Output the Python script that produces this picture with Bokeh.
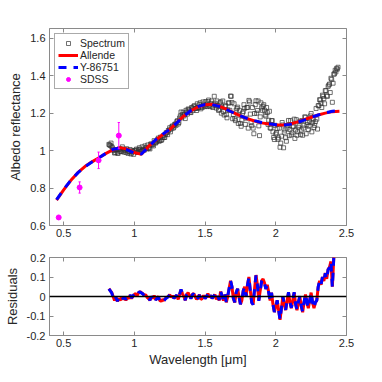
import numpy as np
from bokeh.plotting import figure
from bokeh.models import (Range1d, LinearAxis, FixedTicker, Span, Legend,
                          LegendItem, CustomJSTickFormatter)
from bokeh.layouts import column
from bokeh.embed import file_html
from bokeh.resources import INLINE

# ---------------- data ----------------
model_wl = [0.45, 0.50, 0.55, 0.60, 0.65, 0.70, 0.75, 0.80, 0.85, 0.90,
            0.95, 1.00, 1.05, 1.10, 1.15, 1.20, 1.25, 1.30, 1.35, 1.40,
            1.45, 1.50, 1.55, 1.60, 1.65, 1.70, 1.75, 1.80, 1.85, 1.90,
            1.95, 2.00, 2.05, 2.10, 2.15, 2.20, 2.25, 2.30, 2.35, 2.40, 2.45]
allende = [0.735, 0.790, 0.840, 0.882, 0.915, 0.940, 0.962, 0.985, 1.005, 1.016,
           1.008, 0.990, 0.980, 1.022, 1.055, 1.085, 1.112, 1.150, 1.185, 1.213,
           1.233, 1.245, 1.247, 1.238, 1.222, 1.203, 1.185, 1.170, 1.158, 1.148,
           1.142, 1.138, 1.137, 1.142, 1.152, 1.165, 1.178, 1.190, 1.200, 1.208, 1.210]
y86751 = [0.738, 0.792, 0.841, 0.881, 0.913, 0.939, 0.962, 0.986, 1.007, 1.014,
          1.004, 0.987, 0.982, 1.020, 1.057, 1.087, 1.113, 1.148, 1.184, 1.214,
          1.235, 1.246, 1.246, 1.236, 1.220, 1.202, 1.185, 1.171, 1.160, 1.150,
          1.143, 1.138, 1.136, 1.140, 1.150, 1.163, 1.177, 1.190, 1.201, 1.210, 1.213]

# main spectrum channel (used for the residuals), one value every 0.01 um from 0.82
SPEC_A_START = 0.82
SPEC_STEP = 0.01
spec_refl_a = [
    1.033, 1.027, 1.021, 1.005, 0.987, 1.004, 0.987, 1.004, 0.996, 1.009,   # 0.82-0.91
    0.998, 1.006, 0.990, 1.003, 0.994, 1.006, 0.987, 0.994, 1.000, 1.003,   # 0.92-1.01
    0.991, 1.004, 1.007, 1.000, 1.003, 1.002, 1.015, 1.009, 1.012, 1.009,   # 1.02-1.11
    1.035, 1.032, 1.053, 1.040, 1.051, 1.067, 1.053, 1.054, 1.070, 1.070,   # 1.12-1.21
    1.086, 1.096, 1.107, 1.122, 1.115, 1.132, 1.125, 1.142, 1.155, 1.142,   # 1.22-1.31
    1.174, 1.206, 1.193, 1.185, 1.171, 1.206, 1.222, 1.212, 1.203, 1.227,   # 1.32-1.41
    1.236, 1.225, 1.214, 1.228, 1.245, 1.223, 1.230, 1.248, 1.235, 1.245,   # 1.42-1.51
    1.261, 1.242, 1.252, 1.237, 1.245, 1.253, 1.227, 1.240,                 # 1.52-1.59
    1.218, 1.260, 1.232, 1.208, 1.235, 1.192, 1.218, 1.254, 1.291, 1.257,   # 1.60-1.69
    1.193, 1.169, 1.216, 1.232, 1.189, 1.145, 1.162, 1.209, 1.226, 1.173,   # 1.70-1.79
    1.230, 1.268, 1.195, 1.133, 1.120, 1.198, 1.266, 1.214, 1.132, 1.180,   # 1.80-1.89
    1.228, 1.237, 1.216, 1.184, 1.203, 1.162, 1.121, 1.160, 1.100, 1.059,   # 1.90-1.99
    1.088, 1.118, 1.068, 1.018, 1.077, 1.137, 1.098, 1.069, 1.120, 1.161,   # 2.00-2.09
    1.112, 1.084, 1.126, 1.168, 1.110, 1.082, 1.125, 1.157, 1.110, 1.082,   # 2.10-2.19
    1.135, 1.178, 1.140, 1.113, 1.155, 1.198, 1.150, 1.123, 1.155, 1.168,   # 2.20-2.29
    1.240, 1.272, 1.254, 1.296, 1.278, 1.320, 1.292, 1.343, 1.355, 1.386,   # 2.30-2.39
    1.258, 1.408, 1.429, 1.439, 1.445]                                       # 2.40-2.44

# interleaved spectrum points, one every 0.01 um from 0.825
SPEC_B_START = 0.825
spec_refl_b = [
    1.030, 1.040, 1.015, 1.000, 0.990, 1.005, 0.985, 1.010, 0.995, 1.020,   # 0.825-0.915
    0.992, 1.000, 1.010, 0.985, 0.995, 0.982, 1.000, 0.980, 0.998, 1.008,   # 0.925-1.015
    0.990, 1.015, 0.995, 1.020, 1.005, 1.025, 1.015, 1.030, 1.015, 1.035,   # 1.025-1.115
    1.030, 1.025, 1.045, 1.045, 1.060, 1.050, 1.072, 1.060, 1.080, 1.070,   # 1.125-1.215
    1.095, 1.085, 1.110, 1.100, 1.128, 1.120, 1.140, 1.135, 1.160, 1.150,   # 1.225-1.315
    1.185, 1.175, 1.205, 1.195, 1.215, 1.195, 1.220, 1.205, 1.230, 1.215,   # 1.325-1.415
    1.240, 1.225, 1.250, 1.230, 1.255, 1.235, 1.260, 1.240, 1.262, 1.235,   # 1.425-1.515
    1.270, 1.235, 1.265, 1.230, 1.290, 1.240, 1.265, 1.215, 1.255, 1.200,   # 1.525-1.615
    1.265, 1.190, 1.240, 1.175, 1.255, 1.215, 1.290, 1.170, 1.250, 1.160,   # 1.625-1.715
    1.225, 1.145, 1.215, 1.130, 1.200, 1.245, 1.140, 1.230, 1.120, 1.260,   # 1.725-1.815
    1.150, 1.230, 1.090, 1.245, 1.200, 1.265, 1.080, 1.255, 1.215, 1.245,   # 1.825-1.915
    1.190, 1.230, 1.140, 1.210, 1.120, 1.160, 1.070, 1.135, 1.095, 1.060,   # 1.925-2.015
    1.120, 1.040, 1.150, 1.015, 1.110, 1.050, 1.135, 1.080, 1.160, 1.095,   # 2.025-2.115
    1.130, 1.065, 1.165, 1.100, 1.135, 1.085, 1.160, 1.120, 1.180, 1.090,   # 2.125-2.215
    1.150, 1.130, 1.185, 1.100, 1.165, 1.135, 1.225, 1.115, 1.240, 1.270,   # 2.225-2.315
    1.230, 1.290, 1.250, 1.320, 1.290, 1.350, 1.310, 1.380, 1.360, 1.410,   # 2.325-2.415
    1.420, 1.435]                                                            # 2.425-2.435

sdss_wl = [0.465, 0.613, 0.747, 0.890]
sdss_refl = [0.643, 0.803, 0.948, 1.080]
sdss_err = [0.008, 0.030, 0.044, 0.070]

x_ticks = [0.5, 1, 1.5, 2, 2.5]
top_y_ticks = [0.6, 0.8, 1, 1.2, 1.4, 1.6]
res_y_ticks = [-0.2, -0.1, 0, 0.1, 0.2]

# ---------------- derived ----------------
wl_a = SPEC_A_START + SPEC_STEP * np.arange(len(spec_refl_a))
wl_b = SPEC_B_START + SPEC_STEP * np.arange(len(spec_refl_b))
refl_a = np.array(spec_refl_a)
res_allende = refl_a - np.interp(wl_a, model_wl, allende)
res_y86751 = refl_a - np.interp(wl_a, model_wl, y86751)
spec_wl = np.concatenate([wl_a, wl_b])
spec_refl = np.concatenate([refl_a, spec_refl_b])

FONT = "Liberation Sans"
AX = "#8a8a8a"
TXT = "#262626"
fmt = CustomJSTickFormatter(code="return String(Math.round(tick*100)/100);")
blank = CustomJSTickFormatter(code="return '';")


def style(p, xt, yt, xlabel=None, ylabel=None):
    p.grid.visible = False
    p.outline_line_color = AX
    p.outline_line_width = 1
    p.background_fill_color = "white"
    p.border_fill_color = "white"
    p.xaxis.ticker = FixedTicker(ticks=xt)
    p.yaxis.ticker = FixedTicker(ticks=yt)
    p.xaxis.formatter = fmt
    p.yaxis.formatter = fmt
    for ax in p.axis:
        ax.axis_line_color = AX
        ax.major_tick_line_color = AX
        ax.major_tick_in = 4
        ax.major_tick_out = 0
        ax.minor_tick_line_color = None
        ax.major_label_text_font = FONT
        ax.major_label_text_font_size = "11px"
        ax.major_label_text_color = TXT
        ax.axis_label_text_font = FONT
        ax.axis_label_text_font_size = "13px"
        ax.axis_label_text_font_style = "normal"
        ax.axis_label_text_color = TXT
    p.xaxis.major_label_standoff = 3
    p.yaxis.major_label_standoff = 4
    if xlabel:
        p.xaxis.axis_label = xlabel
        p.xaxis.axis_label_standoff = 2
    if ylabel:
        p.yaxis.axis_label = ylabel
        p.yaxis.axis_label_standoff = 4
    for loc, tk in (("above", xt), ("right", yt)):
        a = LinearAxis(ticker=FixedTicker(ticks=tk), formatter=blank,
                       major_tick_in=4, major_tick_out=0, major_tick_line_color=AX,
                       minor_tick_line_color=None, axis_line_color=None,
                       major_label_standoff=0)
        p.add_layout(a, loc)


# ---------------- top panel ----------------
p1 = figure(width=374, height=245, output_backend="svg", toolbar_location=None,
            x_range=Range1d(0.4, 2.5), y_range=Range1d(0.6, 1.652),
            min_border_left=49, min_border_right=28, min_border_top=28,
            min_border_bottom=20)
style(p1, x_ticks, top_y_ticks, ylabel="Albedo reflectance")

r_spec = p1.scatter(spec_wl, spec_refl, marker="square", size=4,
                    fill_color=None, line_color="#333333", line_width=0.7)
r_all = p1.line(model_wl, allende, line_color="#ff0000", line_width=3)
r_y86 = p1.line(model_wl, y86751, line_color="#0000ff", line_width=3,
                line_dash="8 7")
lo = [v - e for v, e in zip(sdss_refl, sdss_err)]
hi = [v + e for v, e in zip(sdss_refl, sdss_err)]
p1.segment(x0=sdss_wl, y0=lo, x1=sdss_wl, y1=hi, line_color="#ff00ff", line_width=1)
cap = 0.008
p1.segment(x0=[w - cap for w in sdss_wl], y0=lo, x1=[w + cap for w in sdss_wl], y1=lo,
           line_color="#ff00ff", line_width=1)
p1.segment(x0=[w - cap for w in sdss_wl], y0=hi, x1=[w + cap for w in sdss_wl], y1=hi,
           line_color="#ff00ff", line_width=1)
r_sdss = p1.scatter(sdss_wl, sdss_refl, marker="circle", size=5,
                    fill_color="#ff00ff", line_color="#ff00ff")

legend = Legend(items=[LegendItem(label="Spectrum", renderers=[r_spec]),
                       LegendItem(label="Allende", renderers=[r_all]),
                       LegendItem(label="Y-86751", renderers=[r_y86]),
                       LegendItem(label="SDSS", renderers=[r_sdss])],
                location="top_left", margin=5, padding=3, spacing=0,
                label_text_font=FONT, label_text_font_size="10.5px",
                label_text_color=TXT, label_height=10, glyph_height=10,
                glyph_width=20, label_standoff=2,
                border_line_color="#555555", border_line_width=1,
                background_fill_color="white", background_fill_alpha=1)
p1.add_layout(legend)

# ---------------- residual panel ----------------
p2 = figure(width=374, height=124, output_backend="svg", toolbar_location=None,
            x_range=Range1d(0.4, 2.5), y_range=Range1d(-0.2, 0.2),
            min_border_left=49, min_border_right=28, min_border_top=12,
            min_border_bottom=30)
style(p2, x_ticks, res_y_ticks, xlabel="Wavelength [\u03bcm]", ylabel="Residuals")
p2.add_layout(Span(location=0, dimension="width", line_color="black", line_width=1.5))
p2.line(wl_a, res_allende, line_color="#ff0000", line_width=3)
p2.line(wl_a, res_y86751, line_color="#0000ff", line_width=3, line_dash="8 7")

layout = column(p1, p2, spacing=0)
open("out.html", "w").write(file_html(layout, INLINE))
